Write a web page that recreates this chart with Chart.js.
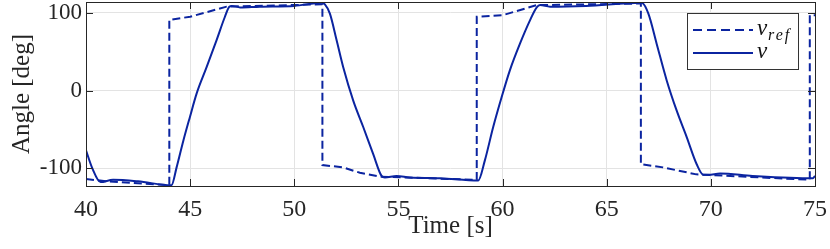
<!DOCTYPE html>
<html>
<head>
<meta charset="utf-8">
<script src="https://cdn.jsdelivr.net/npm/chart.js@4.4.0/dist/chart.umd.min.js"></script>
<style>
  html, body { margin: 0; padding: 0; background: #fff; }
  #wrap { width: 830px; height: 249px; }
</style>
</head>
<body>
<div id="wrap"><canvas id="myChart"></canvas></div>
<script>
// reference angle (dashed)
const refT = [40, 41, 44.0, 44.0, 45, 46.75, 51.35, 51.35, 52.35, 53.15, 54.1, 58.76, 58.76, 60.0, 61.64, 66.64, 66.64, 67.7, 69.3, 74.75, 74.75, 75];
const refV = [-114, -117, -122, 91, 95, 108, 111, -96, -99, -106, -111, -115, 95, 97, 110, 112, -95, -99, -108, -115, 97, 97];
// measured angle (solid)
const actT = [40, 40.3, 40.7, 41.3, 42.5, 44.1, 44.35, 44.67, 44.99, 45.31, 45.79, 46.27, 46.67, 46.88, 47.0, 47.4, 48.35, 50, 51.31, 51.47, 51.71, 52.03, 52.35, 52.83, 53.31, 53.79, 54.19, 54.35, 54.91, 55.55, 57, 58.83, 59.15, 59.55, 59.95, 60.35, 60.83, 61.31, 61.64, 61.8, 62.28, 64, 66.68, 67.0, 67.4, 67.88, 68.36, 68.84, 69.32, 69.64, 69.88, 70.44, 72, 74.9, 75];
const actV = [-77, -100, -118, -115, -117, -122, -99, -65, -34, -4, 30, 65, 95, 108, 109, 107, 108, 109, 113, 111, 99, 65, 30, -13, -47, -82, -110, -112, -110, -112, -113, -116, -90, -47, -9, 26, 60, 90, 107, 110, 108, 109, 113, 99, 60, 13, -26, -60, -95, -108.5, -108.5, -107, -110, -113, -110];
const xTicks = [40, 45, 50, 55, 60, 65, 70, 75];
const yTicks = [-100, 0, 100];

const blue = '#0b24a0';
const serif = "'Liberation Serif', 'DejaVu Serif', serif";

const boxPlugin = {
  id: 'box',
  afterDraw(chart) {
    const ctx = chart.ctx, a = chart.chartArea;
    const xs = chart.scales.x, ys = chart.scales.y;
    ctx.save();
    ctx.strokeStyle = '#262626';
    ctx.lineWidth = 1;
    // inward ticks
    ctx.beginPath();
    xTicks.forEach(v => {
      const px = Math.round(xs.getPixelForValue(v)) + 0.5;
      ctx.moveTo(px, a.bottom); ctx.lineTo(px, a.bottom - 7);
      ctx.moveTo(px, a.top); ctx.lineTo(px, a.top + 7);
    });
    yTicks.forEach(v => {
      const py = Math.round(ys.getPixelForValue(v)) + 0.5;
      ctx.moveTo(a.left, py); ctx.lineTo(a.left + 7, py);
      ctx.moveTo(a.right, py); ctx.lineTo(a.right - 7, py);
    });
    ctx.stroke();
    ctx.strokeRect(Math.round(a.left) + 0.5, Math.round(a.top) + 0.5, Math.round(a.right - a.left), Math.round(a.bottom - a.top));

    // legend
    const lx = a.right - 128, ly = a.top + 11, lw = 111, lh = 56;
    ctx.fillStyle = '#fff';
    ctx.fillRect(lx, ly, lw, lh);
    ctx.strokeStyle = '#333';
    ctx.strokeRect(lx + 0.5, ly + 0.5, lw, lh);
    ctx.strokeStyle = blue;
    ctx.lineWidth = 2;
    ctx.setLineDash([9, 5]);
    ctx.beginPath(); ctx.moveTo(lx + 6, ly + 17); ctx.lineTo(lx + 66, ly + 17); ctx.stroke();
    ctx.setLineDash([]);
    ctx.beginPath(); ctx.moveTo(lx + 6, ly + 40); ctx.lineTo(lx + 66, ly + 40); ctx.stroke();
    ctx.fillStyle = '#111';
    ctx.textBaseline = 'alphabetic';
    ctx.font = 'italic 23px ' + serif;
    ctx.fillText('\u03BD', lx + 70, ly + 22);
    ctx.fillText('\u03BD', lx + 70, ly + 45);
    ctx.font = 'italic 16px ' + serif;
    ctx.letterSpacing = '2px';
    ctx.fillText('ref', lx + 81, ly + 27);
    ctx.restore();
  }
};

const ctx = document.getElementById('myChart').getContext('2d');
const myChart = new Chart(ctx, {
  type: 'line',
  data: {
    datasets: [{
      label: 'ref',
      data: refT.map((t, i) => ({x: t, y: refV[i]})),
      borderColor: blue,
      borderWidth: 2,
      borderDash: [8, 4],
      pointRadius: 0,
      tension: 0,
      fill: false
    }, {
      label: 'nu',
      data: actT.map((t, i) => ({x: t, y: actV[i]})),
      borderColor: blue,
      borderWidth: 2,
      pointRadius: 0,
      cubicInterpolationMode: 'monotone',
      fill: false
    }]
  },
  options: {
    responsive: true,
    maintainAspectRatio: false,
    animation: false,
    layout: { padding: { left: 0, right: 15, top: 2, bottom: 0 } },
    plugins: { legend: { display: false }, tooltip: { enabled: false } },
    scales: {
      x: {
        type: 'linear',
        min: 40, max: 75,
        afterBuildTicks: s => { s.ticks = xTicks.map(v => ({value: v})); },
        afterFit: s => { s.height = 63; s.paddingLeft = 0; s.paddingRight = 0; },
        grid: { color: '#e3e3e3', drawTicks: false },
        border: { display: false },
        ticks: { color: '#262626', font: { family: serif, size: 24 }, padding: 9, maxRotation: 0 },
        title: { display: true, text: 'Time [s]', color: '#262626', font: { family: serif, size: 25 }, padding: { top: 0, bottom: 8 } }
      },
      y: {
        min: -123, max: 114,
        afterBuildTicks: s => { s.ticks = yTicks.map(v => ({value: v})); },
        afterFit: s => { s.width = 86; s.paddingTop = 0; s.paddingBottom = 0; },
        grid: { color: '#e3e3e3', drawTicks: false },
        border: { display: false },
        ticks: { color: '#262626', font: { family: serif, size: 23 }, padding: 4 },
        title: { display: true, text: 'Angle [deg]', color: '#262626', font: { family: serif, size: 25 }, padding: { top: 7, bottom: 0 } }
      }
    }
  },
  plugins: [boxPlugin]
});
</script>
</body>
</html>
